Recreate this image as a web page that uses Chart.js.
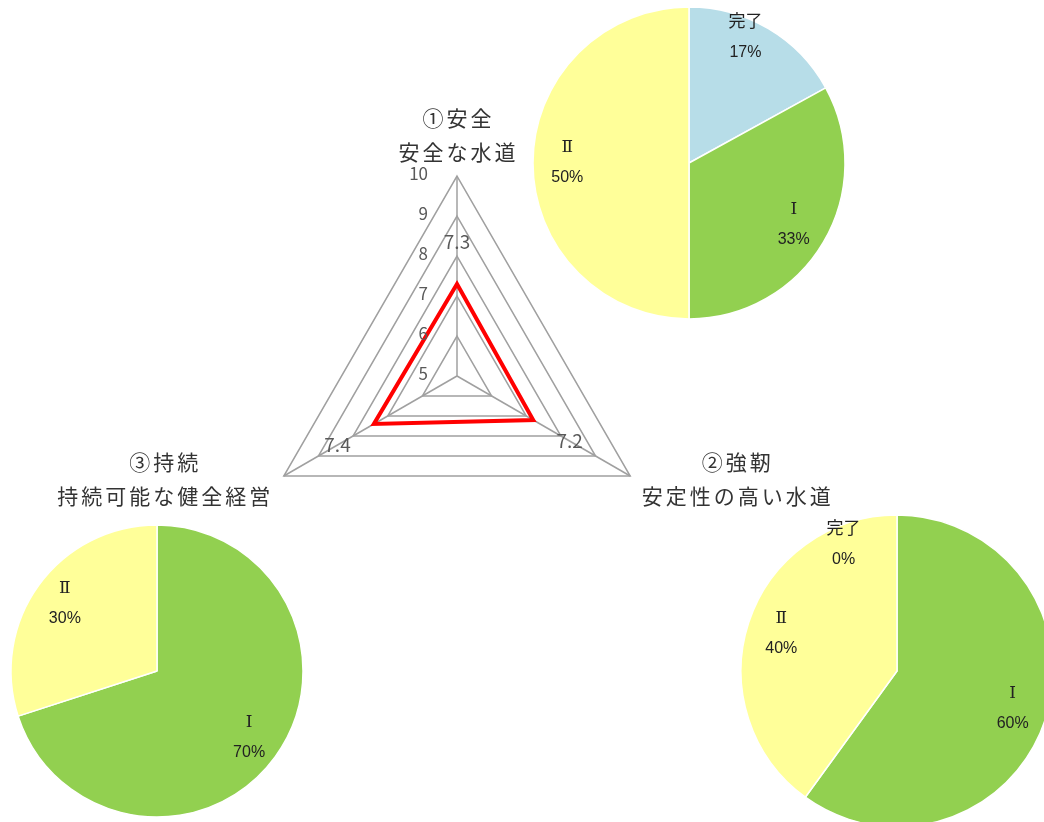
<!DOCTYPE html>
<html lang="ja">
<head>
<meta charset="utf-8">
<title>水道事業 評価</title>
<script src="https://cdn.jsdelivr.net/npm/chart.js@4.4.1/dist/chart.umd.min.js"></script>
<style>
  html, body { margin: 0; padding: 0; background: #fff; overflow: hidden; }
  #wrap { position: relative; width: 1044px; height: 822px; }
  canvas { position: absolute; }
  #radarChart { left: 0; top: 0; }
  #pieSafe { left: 519px; top: -7px; }
  #pieStrong { left: 727px; top: 501px; }
  #pieSustain { left: -3px; top: 511px; }
</style>
</head>
<body>
<div id="wrap">
  <canvas id="radarChart" width="1044" height="822"></canvas>
  <canvas id="pieSafe" width="340" height="340"></canvas>
  <canvas id="pieStrong" width="340" height="340"></canvas>
  <canvas id="pieSustain" width="320" height="320"></canvas>
</div>
<script>
// radar: three goals
const radarLabels = [['①安全', '安全な水道'], ['②強靭', '安定性の高い水道'], ['③持続', '持続可能な健全経営']];
const radarScores = [7.3, 7.2, 7.4];
const radarTicks = [5, 6, 7, 8, 9, 10];

// pies: progress share per goal (%)
const stageLabels = ['完了', 'Ⅰ', 'Ⅱ'];
const safeShare = [17, 33, 50];
const strongShare = [0, 60, 40];
const sustainLabels = ['Ⅰ', 'Ⅱ'];
const sustainShare = [70, 30];

const BLUE = '#b7dde8', GREEN = '#92d050', YELLOW = '#ffff99';
const JP = '"Noto Sans CJK JP", sans-serif';

const radarText = {
    id: 'radarText',
    afterDraw(chart) {
        const scale = chart.scales.r;
        const ctx = chart.ctx;
        ctx.save();
        ctx.fillStyle = '#595959';
        ctx.textBaseline = 'middle';

        // tick labels, left of the vertical axis
        ctx.font = '17px ' + JP;
        ctx.textAlign = 'right';
        radarTicks.forEach(v => {
            const y = scale.yCenter - scale.getDistanceFromCenterForValue(v);
            ctx.fillText(String(v), scale.xCenter - 29, y - 2);
        });

        // value labels
        ctx.font = '19px ' + JP;
        ctx.textAlign = 'center';
        radarScores.forEach((v, i) => {
            const p = scale.getPointPosition(i, scale.getDistanceFromCenterForValue(v) + 42);
            ctx.fillText(v.toFixed(1), p.x, p.y);
        });

        // axis titles
        ctx.font = '21px ' + JP;
        ctx.letterSpacing = '3px';
        ctx.fillStyle = '#333';
        const lineH = 34;
        radarLabels.forEach((lines, i) => {
            const p = scale.getPointPosition(i, scale.drawingArea);
            const w = Math.max(...lines.map(t => ctx.measureText(t).width));
            const h = lines.length * lineH;
            let cx, top;
            if (Math.abs(p.x - scale.xCenter) < 1) {
                cx = p.x; top = p.y - 7 - h;
            } else if (p.x > scale.xCenter) {
                cx = p.x + 10 + w / 2; top = p.y + 3 - h / 2;
            } else {
                cx = p.x - 12 - w / 2; top = p.y + 3 - h / 2;
            }
            // letterSpacing adds trailing space, nudge back half of it
            lines.forEach((t, k) => ctx.fillText(t, cx + 1.5, top + lineH * (k + 0.5)));
        });
        ctx.restore();
    }
};

new Chart(document.getElementById('radarChart').getContext('2d'), {
    type: 'radar',
    data: {
        labels: radarLabels,
        datasets: [{
            data: radarScores,
            borderColor: '#ff0000',
            borderWidth: 4,
            borderJoinStyle: 'miter',
            backgroundColor: 'rgba(0,0,0,0)',
            fill: false,
            pointRadius: 0
        }]
    },
    options: {
        responsive: false,
        animation: false,
        events: [],
        layout: { padding: { left: 257, top: 176, right: 387, bottom: 246 } },
        plugins: { legend: { display: false }, tooltip: { enabled: false } },
        scales: {
            r: {
                min: radarTicks[0],
                max: radarTicks[radarTicks.length - 1],
                ticks: { display: false, stepSize: 1 },
                pointLabels: { display: false },
                grid: { color: '#a0a0a0', lineWidth: 1.5 },
                angleLines: { color: '#a0a0a0', lineWidth: 1.5 }
            }
        }
    },
    plugins: [radarText]
});

const pieText = {
    id: 'pieText',
    afterDatasetsDraw(chart) {
        const meta = chart.getDatasetMeta(0);
        const values = chart.data.datasets[0].data;
        const labels = chart.data.labels;
        const ctx = chart.ctx;
        ctx.save();
        ctx.fillStyle = '#222';
        ctx.textAlign = 'center';
        ctx.textBaseline = 'middle';
        meta.data.forEach((arc, i) => {
            const a = arc.getProps(['x', 'y', 'startAngle', 'endAngle', 'outerRadius'], true);
            let mid = (a.startAngle + a.endAngle) / 2;
            let k = 0.78;
            if (values[i] === 0) { mid -= 0.4; k = 0.88; }
            else if (values[i] < 20) { mid -= 0.11; k = 0.88; }
            const lx = a.x + Math.cos(mid) * a.outerRadius * k;
            const ly = a.y + Math.sin(mid) * a.outerRadius * k;
            ctx.font = '17px "DejaVu Serif", ' + JP;
            ctx.fillText(labels[i], lx, ly - 15);
            ctx.font = '16px "Liberation Sans", ' + JP;
            ctx.fillText(values[i] + '%', lx, ly + 15);
        });
        ctx.restore();
    }
};

function makePie(id, labels, values, colors, radius) {
    return new Chart(document.getElementById(id).getContext('2d'), {
        type: 'pie',
        data: {
            labels: labels,
            datasets: [{
                data: values,
                backgroundColor: colors,
                borderColor: '#ffffff',
                borderWidth: 1.5,
                radius: radius
            }]
        },
        options: {
            responsive: false,
            animation: false,
            events: [],
            plugins: { legend: { display: false }, tooltip: { enabled: false } }
        },
        plugins: [pieText]
    });
}

makePie('pieSafe', stageLabels, safeShare, [BLUE, GREEN, YELLOW], 156);
makePie('pieStrong', stageLabels, strongShare, [BLUE, GREEN, YELLOW], 156);
makePie('pieSustain', sustainLabels, sustainShare, [GREEN, YELLOW], 146);
</script>
</body>
</html>
